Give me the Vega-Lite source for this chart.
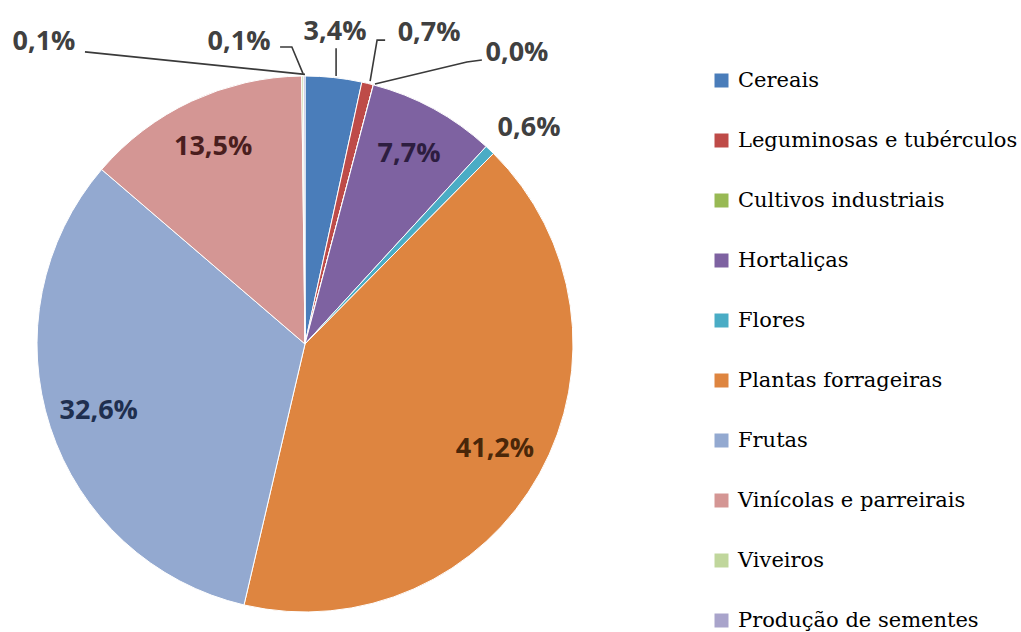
{
  "$schema": "https://vega.github.io/schema/vega-lite/v6.json",
  "autosize": {"type": "none"},
  "width": 536,
  "height": 548,
  "padding": {"left": 37, "top": 70, "right": 448, "bottom": 14},
  "background": "white",
  "config": {"view": {"stroke": null}},
  "datasets": {
    "fatias": [
      {"categoria": "Cereais", "valor": 3.4, "rotulo": "3,4%", "ordem": 1},
      {"categoria": "Leguminosas e tubérculos", "valor": 0.7, "rotulo": "0,7%", "ordem": 2},
      {"categoria": "Cultivos industriais", "valor": 0.0, "rotulo": "0,0%", "ordem": 3},
      {"categoria": "Hortaliças", "valor": 7.7, "rotulo": "7,7%", "ordem": 4},
      {"categoria": "Flores", "valor": 0.6, "rotulo": "0,6%", "ordem": 5},
      {"categoria": "Plantas forrageiras", "valor": 41.2, "rotulo": "41,2%", "ordem": 6},
      {"categoria": "Frutas", "valor": 32.6, "rotulo": "32,6%", "ordem": 7},
      {"categoria": "Vinícolas e parreirais", "valor": 13.5, "rotulo": "13,5%", "ordem": 8},
      {"categoria": "Viveiros", "valor": 0.1, "rotulo": "0,1%", "ordem": 9},
      {"categoria": "Produção de sementes", "valor": 0.1, "rotulo": "0,1%", "ordem": 10}
    ],
    "rotulosFora": [
      {"rotulo": "0,1%", "x": -0.974, "y": -1.127},
      {"rotulo": "0,1%", "x": -0.246, "y": -1.127},
      {"rotulo": "3,4%", "x": 0.112, "y": -1.164},
      {"rotulo": "0,7%", "x": 0.463, "y": -1.160},
      {"rotulo": "0,0%", "x": 0.791, "y": -1.086},
      {"rotulo": "0,6%", "x": 0.836, "y": -0.806}
    ],
    "linhas": [
      {"id": "a", "seq": 1, "x": -0.821, "y": -1.090},
      {"id": "a", "seq": 2, "x": 0.0, "y": -1.006},
      {"id": "b", "seq": 1, "x": -0.093, "y": -1.108},
      {"id": "b", "seq": 2, "x": -0.049, "y": -1.108},
      {"id": "b", "seq": 3, "x": -0.007, "y": -1.008},
      {"id": "c", "seq": 1, "x": 0.116, "y": -1.104},
      {"id": "c", "seq": 2, "x": 0.116, "y": -1.0},
      {"id": "d", "seq": 1, "x": 0.299, "y": -1.134},
      {"id": "d", "seq": 2, "x": 0.269, "y": -1.134},
      {"id": "d", "seq": 3, "x": 0.243, "y": -0.981},
      {"id": "e", "seq": 1, "x": 0.660, "y": -1.060},
      {"id": "e", "seq": 2, "x": 0.604, "y": -1.052},
      {"id": "e", "seq": 3, "x": 0.261, "y": -0.970}
    ]
  },
  "layer": [
    {
      "data": {"name": "fatias"},
      "mark": {"type": "arc", "outerRadius": 268, "stroke": "white", "strokeWidth": 1},
      "encoding": {
        "theta": {"field": "valor", "type": "quantitative", "stack": true},
        "order": {"field": "ordem", "type": "quantitative"},
        "color": {
          "field": "categoria",
          "type": "nominal",
          "sort": null,
          "scale": {
            "domain": ["Cereais", "Leguminosas e tubérculos", "Cultivos industriais", "Hortaliças", "Flores", "Plantas forrageiras", "Frutas", "Vinícolas e parreirais", "Viveiros", "Produção de sementes"],
            "range": ["#4A7DBA", "#BE4B48", "#98B954", "#7E62A1", "#4AACC5", "#DE8540", "#93A9D0", "#D49694", "#C0D69C", "#A9A4CB"]
          },
          "legend": {
            "title": null,
            "orient": "right",
            "offset": 138,
            "padding": 0,
            "symbolType": "square",
            "symbolSize": 196,
            "symbolStrokeWidth": 0,
            "labelFont": "DejaVu Serif",
            "labelFontSize": 21,
            "labelColor": "#000000",
            "labelOffset": 6,
            "labelLimit": 400,
            "rowPadding": 38
          }
        }
      }
    },
    {
      "data": {"name": "fatias"},
      "mark": {"type": "text", "radius": 217, "font": "Open Sans", "fontWeight": "bold", "fontSize": 27, "align": "center", "baseline": "middle"},
      "encoding": {
        "theta": {"field": "valor", "type": "quantitative", "stack": true},
        "order": {"field": "ordem", "type": "quantitative"},
        "text": {"condition": {"test": "datum.valor > 5", "field": "rotulo"}, "value": ""},
        "color": {
          "field": "categoria",
          "type": "nominal",
          "sort": null,
          "scale": {
            "domain": ["Cereais", "Leguminosas e tubérculos", "Cultivos industriais", "Hortaliças", "Flores", "Plantas forrageiras", "Frutas", "Vinícolas e parreirais", "Viveiros", "Produção de sementes"],
            "range": ["#1E3050", "#4A1E1E", "#3A4A1E", "#2D1D40", "#1E3A44", "#4A2709", "#1F2F4F", "#4A1E1E", "#3A4A1E", "#2D1D40"]
          },
          "legend": null
        }
      }
    },
    {
      "data": {"name": "linhas"},
      "mark": {"type": "line", "color": "#3A3A3A", "strokeWidth": 1.6},
      "encoding": {
        "x": {"field": "x", "type": "quantitative", "scale": {"domain": [-1, 1], "nice": false, "zero": false}, "axis": null},
        "y": {"field": "y", "type": "quantitative", "scale": {"domain": [-1.02239, 1.02239], "nice": false, "zero": false, "reverse": true}, "axis": null},
        "detail": {"field": "id", "type": "nominal"},
        "order": {"field": "seq", "type": "quantitative"}
      }
    },
    {
      "data": {"name": "rotulosFora"},
      "mark": {"type": "text", "font": "Open Sans", "fontWeight": "bold", "fontSize": 27, "color": "#404040", "align": "center", "baseline": "middle"},
      "encoding": {
        "x": {"field": "x", "type": "quantitative"},
        "y": {"field": "y", "type": "quantitative"},
        "text": {"field": "rotulo", "type": "nominal"}
      }
    }
  ],
  "resolve": {"scale": {"color": "independent"}}
}
